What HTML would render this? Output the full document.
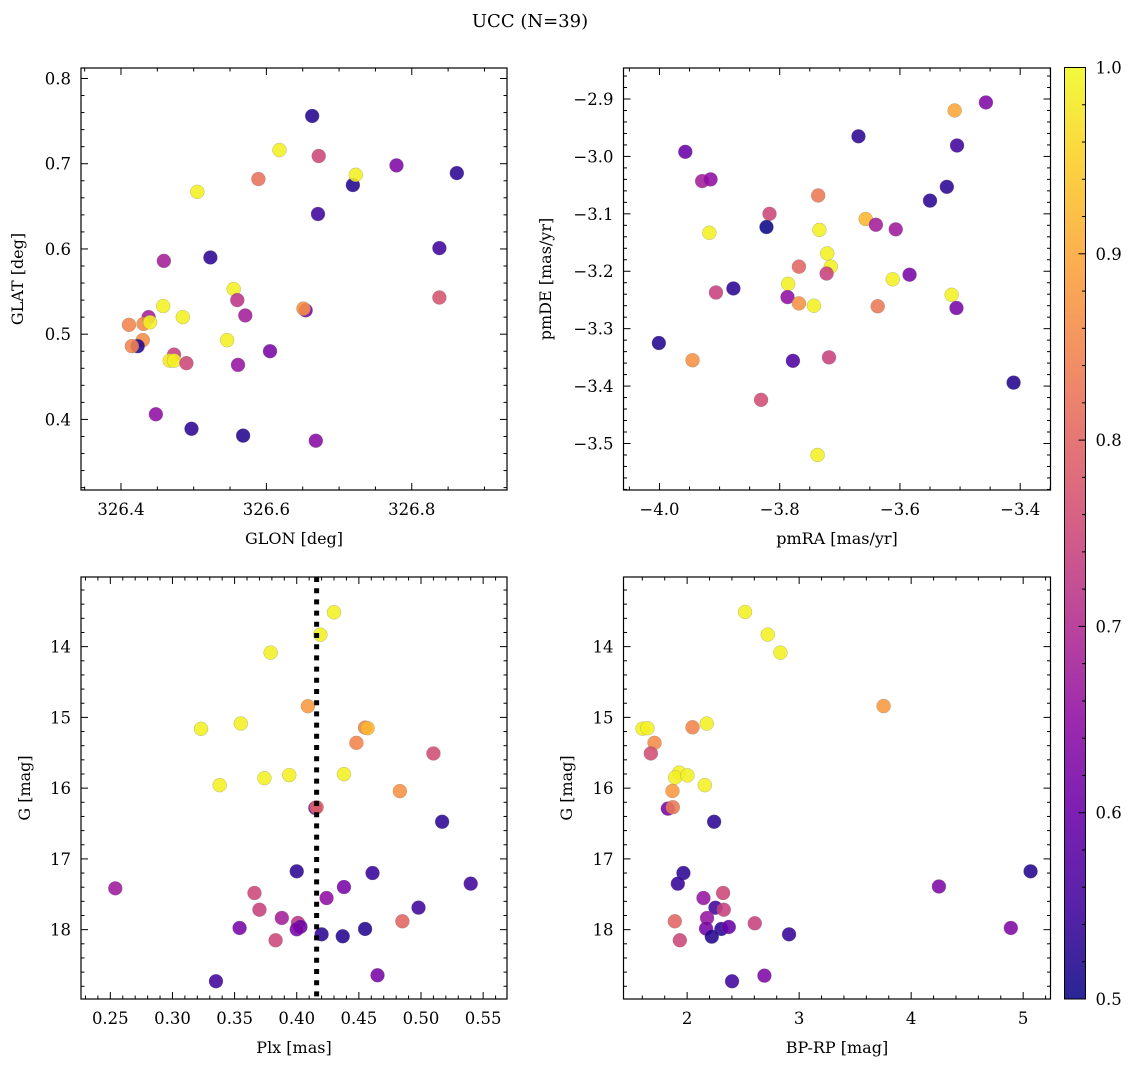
<!DOCTYPE html>
<html><head><meta charset="utf-8"><style>
html,body{margin:0;padding:0;background:#fff;}
svg, svg text{font-family:"DejaVu Serif","Liberation Serif","Noto Serif CJK SC",serif;}
</style></head><body>
<svg id="fig" width="1136" height="1067" viewBox="0 0 1136 1067" xmlns="http://www.w3.org/2000/svg" font-family="DejaVu Serif, Liberation Serif, serif">
<text x="530" y="27" font-size="18" text-anchor="middle">UCC (N=39)</text>
</svg>
<script>
// ---- data ----
const tlGlon=[326.663,326.618,326.672,326.589,326.505,326.719,326.723,326.779,326.862,326.671,326.838,326.459,326.523,326.555,326.560,326.571,326.654,326.651,326.838,326.458,326.485,326.438,326.411,326.431,326.440,326.546,326.430,326.423,326.415,326.605,326.473,326.467,326.473,326.490,326.561,326.448,326.497,326.568,326.668];
const tlGlat=[0.756,0.716,0.709,0.682,0.667,0.675,0.687,0.698,0.689,0.641,0.601,0.586,0.590,0.553,0.540,0.522,0.528,0.530,0.543,0.533,0.520,0.520,0.511,0.512,0.514,0.493,0.493,0.486,0.486,0.480,0.476,0.469,0.469,0.466,0.464,0.406,0.389,0.381,0.375];
const tlProb=[0.52,0.99,0.75,0.82,0.99,0.52,0.99,0.63,0.53,0.55,0.55,0.68,0.53,0.99,0.72,0.68,0.62,0.87,0.77,0.99,0.99,0.68,0.85,0.86,0.99,0.99,0.86,0.52,0.85,0.62,0.74,0.98,0.99,0.75,0.66,0.65,0.53,0.52,0.64];

const trPmra=[-3.457,-3.509,-3.669,-3.505,-3.957,-3.929,-3.915,-3.522,-3.550,-3.736,-3.817,-3.822,-3.917,-3.734,-3.657,-3.640,-3.607,-3.721,-3.715,-3.768,-3.722,-3.584,-3.612,-3.786,-3.877,-3.906,-3.787,-3.768,-3.743,-3.637,-3.514,-3.506,-4.001,-3.945,-3.778,-3.718,-3.411,-3.831,-3.737];
const trPmde=[-2.906,-2.920,-2.965,-2.981,-2.992,-3.043,-3.040,-3.053,-3.077,-3.068,-3.100,-3.123,-3.133,-3.128,-3.109,-3.119,-3.127,-3.169,-3.192,-3.192,-3.204,-3.206,-3.214,-3.222,-3.230,-3.237,-3.245,-3.256,-3.260,-3.261,-3.241,-3.264,-3.325,-3.355,-3.356,-3.350,-3.394,-3.424,-3.520];
const trProb=[0.63,0.90,0.53,0.55,0.60,0.68,0.65,0.53,0.53,0.83,0.75,0.50,0.99,0.99,0.92,0.68,0.67,0.99,0.99,0.80,0.74,0.62,0.99,0.99,0.53,0.74,0.65,0.87,0.99,0.83,0.99,0.62,0.52,0.87,0.57,0.74,0.52,0.76,0.99];

const blPlx=[0.430,0.419,0.379,0.409,0.323,0.355,0.455,0.457,0.448,0.510,0.338,0.374,0.394,0.438,0.483,0.415,0.416,0.517,0.400,0.461,0.540,0.254,0.366,0.438,0.424,0.370,0.498,0.388,0.485,0.354,0.401,0.403,0.400,0.383,0.420,0.437,0.455,0.335,0.465];
const blG=[13.515,13.831,14.085,14.842,15.162,15.087,15.144,15.153,15.36,15.51,15.958,15.859,15.816,15.802,16.042,16.28,16.27,16.475,17.176,17.2,17.35,17.416,17.482,17.398,17.553,17.718,17.689,17.835,17.882,17.976,17.906,17.96,17.995,18.15,18.066,18.094,17.99,18.729,18.645];
const blProb=[0.99,0.99,0.99,0.88,0.99,0.99,0.85,0.92,0.85,0.76,0.99,0.99,0.99,0.99,0.87,0.60,0.80,0.53,0.53,0.54,0.55,0.67,0.75,0.62,0.65,0.74,0.55,0.68,0.80,0.62,0.72,0.60,0.62,0.75,0.53,0.52,0.52,0.55,0.62];
const plxLine=0.416;

const brColor=[2.517,2.72,2.833,3.754,1.602,1.646,2.048,2.175,1.709,1.676,1.929,1.893,2.003,2.158,1.869,1.828,1.872,2.241,1.967,1.917,5.066,4.248,2.146,2.321,2.253,2.327,2.178,1.89,2.604,2.169,2.306,2.372,2.22,1.935,2.91,4.89,2.401,2.69];
const brG=[13.51,13.83,14.085,14.84,15.16,15.153,15.14,15.087,15.36,15.51,15.78,15.85,15.82,15.958,16.04,16.29,16.27,16.475,17.2,17.35,17.176,17.39,17.553,17.482,17.69,17.718,17.835,17.882,17.91,17.985,17.99,17.962,18.099,18.15,18.066,17.976,18.73,18.65];
const brProb=[0.99,0.99,0.99,0.88,0.99,0.99,0.85,0.99,0.86,0.76,0.99,0.99,0.99,0.99,0.88,0.62,0.83,0.53,0.53,0.54,0.52,0.63,0.66,0.75,0.55,0.74,0.66,0.80,0.74,0.62,0.53,0.60,0.52,0.75,0.54,0.63,0.55,0.63];

const tlXTicks=[326.4,326.6,326.8];
const tlXLabels=["326.4","326.6","326.8"];
const tlYTicks=[0.4,0.5,0.6,0.7,0.8];
const tlYLabels=["0.4","0.5","0.6","0.7","0.8"];
const trXTicks=[-4.0,-3.8,-3.6,-3.4];
const trXLabels=["−4.0","−3.8","−3.6","−3.4"];
const trYTicks=[-2.9,-3.0,-3.1,-3.2,-3.3,-3.4,-3.5];
const trYLabels=["−2.9","−3.0","−3.1","−3.2","−3.3","−3.4","−3.5"];
const blXTicks=[0.25,0.30,0.35,0.40,0.45,0.50,0.55];
const blXLabels=["0.25","0.30","0.35","0.40","0.45","0.50","0.55"];
const gTicks=[14,15,16,17,18];
const gLabels=["14","15","16","17","18"];
const brXTicks=[2,3,4,5];
const brXLabels=["2","3","4","5"];
const cbTicks=[0.5,0.6,0.7,0.8,0.9,1.0];
const cbLabels=["0.5","0.6","0.7","0.8","0.9","1.0"];

// ---- helpers ----
const NS="http://www.w3.org/2000/svg";
const svg=document.getElementById('fig');
const FF='"DejaVu Serif","Liberation Serif",serif';
function mk(tag,attrs,parent){const e=document.createElementNS(NS,tag);for(const k in attrs)e.setAttribute(k,attrs[k]);if(tag==='text')e.style.fontFamily=FF;(parent||svg).appendChild(e);return e;}
svg.querySelector('text').style.fontFamily=FF;
const stops=["#0d0887","#41049d","#6a00a8","#8f0da4","#b12a90","#cc4778","#e16462","#f2844b","#fca636","#fcce25","#f0f921"];
function hex(h){return [parseInt(h.substr(1,2),16),parseInt(h.substr(3,2),16),parseInt(h.substr(5,2),16)];}
function plasma(t){t=Math.max(0,Math.min(1,t));const f=t*10,i=Math.min(9,Math.floor(f)),r=f-i;const a=hex(stops[i]),b=hex(stops[i+1]);return 'rgb('+a.map((v,k)=>Math.round(v+(b[k]-v)*r)).join(',')+')';}
function cmap(v){return plasma((v-0.5)/0.5);}

function panel(o){
  const g=mk('g',{});
  
  
  const sx=v=>o.x0+(v-o.xmin)/(o.xmax-o.xmin)*o.w;
  const sy=o.inv?(v=>o.y0+(v-o.ymin)/(o.ymax-o.ymin)*o.h):(v=>o.y0+o.h-(v-o.ymin)/(o.ymax-o.ymin)*o.h);
  const pg=mk('g',{},g);
  
  
  for(let i=0;i<o.xs.length;i++){
    const c=mk('circle',{cx:sx(o.xs[i]),cy:sy(o.ys[i]),r:7,fill:cmap(o.cs[i]),'fill-opacity':0.88,stroke:'#777','stroke-width':0.4,'stroke-opacity':0.6},pg);
    
    
  }
  if(o.vline!==undefined){
    const l=mk('line',{x1:sx(o.vline),x2:sx(o.vline),y1:o.y0,y2:o.y0+o.h,stroke:'#000','stroke-width':5,'stroke-dasharray':'5 6.2'},g);
    
    
  }
  const f=mk('rect',{x:o.x0,y:o.y0,width:o.w,height:o.h,fill:'none',stroke:'#000','stroke-width':1.2},g);
  
  
  const tg=mk('g',{stroke:'#000','stroke-width':1},g);
  
  
  const near=(v,arr,s)=>arr.some(a=>Math.abs(a-v)<s*0.01);
  for(let v=Math.ceil(o.xmin/o.xmn)*o.xmn;v<=o.xmax;v+=o.xmn){if(near(v,o.xt,o.xmn))continue;const X=sx(v);mk('line',{x1:X,x2:X,y1:o.y0+o.h,y2:o.y0+o.h-3.5},tg);mk('line',{x1:X,x2:X,y1:o.y0,y2:o.y0+3.5},tg);}
  for(let v=Math.ceil(o.ymin/o.ymn)*o.ymn;v<=o.ymax;v+=o.ymn){if(near(v,o.yt,o.ymn))continue;const Y=sy(v);mk('line',{x1:o.x0,x2:o.x0+3.5,y1:Y,y2:Y},tg);mk('line',{x1:o.x0+o.w,x2:o.x0+o.w-3.5,y1:Y,y2:Y},tg);}
  o.xt.forEach((v,i)=>{const X=sx(v);mk('line',{x1:X,x2:X,y1:o.y0+o.h,y2:o.y0+o.h-7},tg);mk('line',{x1:X,x2:X,y1:o.y0,y2:o.y0+7},tg);
    const t=mk('text',{x:X,y:o.y0+o.h+25,'font-size':16.5,'text-anchor':'middle'},g);t.textContent=o.xl[i];
    
    });
  o.yt.forEach((v,i)=>{const Y=sy(v);mk('line',{x1:o.x0,x2:o.x0+7,y1:Y,y2:Y},tg);mk('line',{x1:o.x0+o.w,x2:o.x0+o.w-7,y1:Y,y2:Y},tg);
    const t=mk('text',{x:o.x0-10,y:Y+6,'font-size':16.5,'text-anchor':'end'},g);t.textContent=o.yl[i];
    
    });
  const xt=mk('text',{x:o.x0+o.w/2,y:o.y0+o.h+54,'font-size':16,'text-anchor':'middle'},g);xt.textContent=o.xlab;
  
  
  const yx=o.ylx,yy=o.y0+o.h/2;
  const yt=mk('text',{x:yx,y:yy,'font-size':16,'text-anchor':'middle',transform:'rotate(-90 '+yx+' '+yy+')'},g);yt.textContent=o.ylab;
  
  
}

panel({name:'glon-glat-panel',x0:81,y0:68,w:426,h:422,xmin:326.345,xmax:326.931,ymin:0.3172,ymax:0.8123,inv:false,xs:tlGlon,ys:tlGlat,cs:tlProb,xt:tlXTicks,xl:tlXLabels,yt:tlYTicks,yl:tlYLabels,xmn:0.05,ymn:0.02,xlab:'GLON [deg]',ylab:'GLAT [deg]',ylx:23});
panel({name:'pm-panel',x0:623.5,y0:68,w:427,h:422,xmin:-4.0598,xmax:-3.3496,ymin:-3.581,ymax:-2.846,inv:false,xs:trPmra,ys:trPmde,cs:trProb,xt:trXTicks,xl:trXLabels,yt:trYTicks,yl:trYLabels,xmn:0.05,ymn:0.02,xlab:'pmRA [mas/yr]',ylab:'pmDE [mas/yr]',ylx:551});
panel({name:'plx-g-panel',x0:81,y0:577,w:426,h:422,xmin:0.2264,xmax:0.5692,ymin:13.016,ymax:18.98,inv:true,xs:blPlx,ys:blG,cs:blProb,xt:blXTicks,xl:blXLabels,yt:gTicks,yl:gLabels,xmn:0.01,ymn:0.2,xlab:'Plx [mas]',ylab:'G [mag]',ylx:30,vline:plxLine});
panel({name:'cmd-panel',x0:623.5,y0:577,w:427,h:422,xmin:1.432,xmax:5.244,ymin:13.016,ymax:18.98,inv:true,xs:brColor,ys:brG,cs:brProb,xt:brXTicks,xl:brXLabels,yt:gTicks,yl:gLabels,xmn:0.2,ymn:0.2,xlab:'BP-RP [mag]',ylab:'G [mag]',ylx:572});

(function(){
  const x0=1064.5,y0=67.5,w=21,h=931.5;
  const cg=mk('g',{});
  
  
  const defs=mk('defs',{},cg);
  const lg=mk('linearGradient',{id:'cbg',x1:0,y1:1,x2:0,y2:0},defs);
  for(let i=0;i<=20;i++){mk('stop',{offset:i/20,'stop-color':plasma(i/20),'stop-opacity':0.88},lg);}
  const r=mk('rect',{x:x0,y:y0,width:w,height:h,fill:'url(#cbg)',stroke:'#000','stroke-width':1},cg);
  
  
  const sy=v=>y0+h-(v-0.5)/0.5*h;
  for(let v=0.52;v<1.0;v+=0.02){if(Math.abs(v*10-Math.round(v*10))<0.01)continue;mk('line',{x1:x0+w,x2:x0+w-3.5,y1:sy(v),y2:sy(v),stroke:'#000'},cg);}
  cbTicks.forEach((v,i)=>{mk('line',{x1:x0+w,x2:x0+w-7,y1:sy(v),y2:sy(v),stroke:'#000'},cg);
    const t=mk('text',{x:x0+w+10,y:sy(v)+6,'font-size':16.5},cg);t.textContent=cbLabels[i];
    
    });
})();
</script>
</body></html>
